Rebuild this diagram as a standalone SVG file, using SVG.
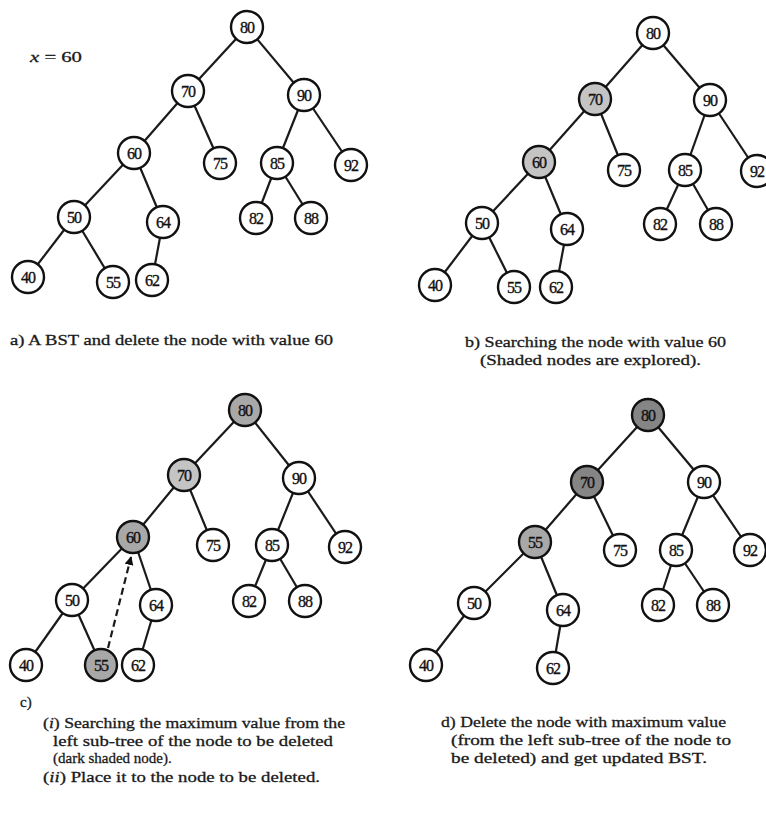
<svg xmlns="http://www.w3.org/2000/svg" width="766" height="814" viewBox="0 0 766 814">
<style>
.e{stroke:#1a1a1a;stroke-width:2.2;fill:none}
.n circle{stroke:#111;stroke-width:2.4;fill:#fff}
.n text{font-family:"Liberation Serif",serif;font-size:16px;fill:#111;stroke:#111;stroke-width:0.35;text-anchor:middle;dominant-baseline:central;letter-spacing:-1px}
.n.s1 circle{fill:#c4c4c4}
.n.s2 circle{fill:#a8a8a8}
.n.s3 circle{fill:#858585}
.cap{font-family:"Liberation Serif",serif;font-size:15px;fill:#1a1a1a;stroke:#1a1a1a;stroke-width:0.3}
</style>
<defs>
<marker id="ah" viewBox="0 0 10 10" refX="9" refY="5" markerWidth="4" markerHeight="4" orient="auto"><path d="M0,0L10,5L0,10z" fill="#111"/></marker>
</defs>
<rect width="766" height="814" fill="#fff"/>
<text class="cap" x="30" y="62" font-size="16" textLength="52" lengthAdjust="spacingAndGlyphs"><tspan font-style="italic">x</tspan> = 60</text>

<g id="connectors">
<g id="edges-a">
<line class="e" x1="247" y1="27" x2="188" y2="91"/><line class="e" x1="247" y1="27" x2="304" y2="95"/>
<line class="e" x1="188" y1="91" x2="134" y2="153"/><line class="e" x1="188" y1="91" x2="220" y2="163"/>
<line class="e" x1="304" y1="95" x2="277" y2="163"/><line class="e" x1="304" y1="95" x2="351" y2="165"/>
<line class="e" x1="134" y1="153" x2="74" y2="217"/><line class="e" x1="134" y1="153" x2="163" y2="222"/>
<line class="e" x1="277" y1="163" x2="256" y2="218"/><line class="e" x1="277" y1="163" x2="311" y2="218"/>
<line class="e" x1="74" y1="217" x2="28" y2="277"/><line class="e" x1="74" y1="217" x2="113" y2="282"/>
<line class="e" x1="163" y1="222" x2="152" y2="280"/>
</g>
<g id="edges-b">
<line class="e" x1="653" y1="33" x2="595" y2="99"/><line class="e" x1="653" y1="33" x2="710" y2="100"/>
<line class="e" x1="595" y1="99" x2="539" y2="162"/><line class="e" x1="595" y1="99" x2="624" y2="170"/>
<line class="e" x1="710" y1="100" x2="685" y2="170"/><line class="e" x1="710" y1="100" x2="757" y2="171"/>
<line class="e" x1="539" y1="162" x2="482" y2="223"/><line class="e" x1="539" y1="162" x2="567" y2="229"/>
<line class="e" x1="685" y1="170" x2="660" y2="224"/><line class="e" x1="685" y1="170" x2="716" y2="224"/>
<line class="e" x1="482" y1="223" x2="435" y2="285"/><line class="e" x1="482" y1="223" x2="514" y2="287"/>
<line class="e" x1="567" y1="229" x2="556" y2="287"/>
</g>
<g id="edges-c">
<line class="e" x1="245" y1="410" x2="184" y2="475"/><line class="e" x1="245" y1="410" x2="299" y2="478"/>
<line class="e" x1="184" y1="475" x2="133" y2="537"/><line class="e" x1="184" y1="475" x2="213" y2="545"/>
<line class="e" x1="299" y1="478" x2="272" y2="545"/><line class="e" x1="299" y1="478" x2="345" y2="547"/>
<line class="e" x1="133" y1="537" x2="72" y2="600"/><line class="e" x1="133" y1="537" x2="156" y2="605"/>
<line class="e" x1="272" y1="545" x2="249" y2="601"/><line class="e" x1="272" y1="545" x2="305" y2="601"/>
<line class="e" x1="72" y1="600" x2="26" y2="665"/><line class="e" x1="72" y1="600" x2="101" y2="665"/>
<line class="e" x1="156" y1="605" x2="138" y2="665"/>
<line class="e" x1="108" y1="648" x2="131" y2="557" stroke-width="2.6" stroke-dasharray="7,4" marker-end="url(#ah)"/>
</g>
<g id="edges-d">
<line class="e" x1="648" y1="415" x2="587" y2="482"/><line class="e" x1="648" y1="415" x2="704" y2="482"/>
<line class="e" x1="587" y1="482" x2="535" y2="542"/><line class="e" x1="587" y1="482" x2="620" y2="550"/>
<line class="e" x1="704" y1="482" x2="676" y2="550"/><line class="e" x1="704" y1="482" x2="750" y2="550"/>
<line class="e" x1="535" y1="542" x2="474" y2="603"/><line class="e" x1="535" y1="542" x2="563" y2="610"/>
<line class="e" x1="676" y1="550" x2="658" y2="605"/><line class="e" x1="676" y1="550" x2="713" y2="605"/>
<line class="e" x1="474" y1="603" x2="426" y2="665"/>
<line class="e" x1="563" y1="610" x2="553" y2="668"/>
</g>
</g>

<g id="a80" class="n"><circle cx="247" cy="27" r="16"/><text x="247" y="27">80</text></g>
<g id="a70" class="n"><circle cx="188" cy="91" r="16"/><text x="188" y="91">70</text></g>
<g id="a90" class="n"><circle cx="304" cy="95" r="16"/><text x="304" y="95">90</text></g>
<g id="a60" class="n"><circle cx="134" cy="153" r="16"/><text x="134" y="153">60</text></g>
<g id="a75" class="n"><circle cx="220" cy="163" r="16"/><text x="220" y="163">75</text></g>
<g id="a85" class="n"><circle cx="277" cy="163" r="16"/><text x="277" y="163">85</text></g>
<g id="a92" class="n"><circle cx="351" cy="165" r="16"/><text x="351" y="165">92</text></g>
<g id="a50" class="n"><circle cx="74" cy="217" r="16"/><text x="74" y="217">50</text></g>
<g id="a64" class="n"><circle cx="163" cy="222" r="16"/><text x="163" y="222">64</text></g>
<g id="a82" class="n"><circle cx="256" cy="218" r="16"/><text x="256" y="218">82</text></g>
<g id="a88" class="n"><circle cx="311" cy="218" r="16"/><text x="311" y="218">88</text></g>
<g id="a40" class="n"><circle cx="28" cy="277" r="16"/><text x="28" y="277">40</text></g>
<g id="a55" class="n"><circle cx="113" cy="282" r="16"/><text x="113" y="282">55</text></g>
<g id="a62" class="n"><circle cx="152" cy="280" r="16"/><text x="152" y="280">62</text></g>

<g id="b80" class="n"><circle cx="653" cy="33" r="16"/><text x="653" y="33">80</text></g>
<g id="b70" class="n s1"><circle cx="595" cy="99" r="16"/><text x="595" y="99">70</text></g>
<g id="b90" class="n"><circle cx="710" cy="100" r="16"/><text x="710" y="100">90</text></g>
<g id="b60" class="n s1"><circle cx="539" cy="162" r="16"/><text x="539" y="162">60</text></g>
<g id="b75" class="n"><circle cx="624" cy="170" r="16"/><text x="624" y="170">75</text></g>
<g id="b85" class="n"><circle cx="685" cy="170" r="16"/><text x="685" y="170">85</text></g>
<g id="b92" class="n"><circle cx="757" cy="171" r="16"/><text x="757" y="171">92</text></g>
<g id="b50" class="n"><circle cx="482" cy="223" r="16"/><text x="482" y="223">50</text></g>
<g id="b64" class="n"><circle cx="567" cy="229" r="16"/><text x="567" y="229">64</text></g>
<g id="b82" class="n"><circle cx="660" cy="224" r="16"/><text x="660" y="224">82</text></g>
<g id="b88" class="n"><circle cx="716" cy="224" r="16"/><text x="716" y="224">88</text></g>
<g id="b40" class="n"><circle cx="435" cy="285" r="16"/><text x="435" y="285">40</text></g>
<g id="b55" class="n"><circle cx="514" cy="287" r="16"/><text x="514" y="287">55</text></g>
<g id="b62" class="n"><circle cx="556" cy="287" r="16"/><text x="556" y="287">62</text></g>

<g id="c80" class="n s2"><circle cx="245" cy="410" r="16"/><text x="245" y="410">80</text></g>
<g id="c70" class="n s1"><circle cx="184" cy="475" r="16"/><text x="184" y="475">70</text></g>
<g id="c90" class="n"><circle cx="299" cy="478" r="16"/><text x="299" y="478">90</text></g>
<g id="c60" class="n s2"><circle cx="133" cy="537" r="16"/><text x="133" y="537">60</text></g>
<g id="c75" class="n"><circle cx="213" cy="545" r="16"/><text x="213" y="545">75</text></g>
<g id="c85" class="n"><circle cx="272" cy="545" r="16"/><text x="272" y="545">85</text></g>
<g id="c92" class="n"><circle cx="345" cy="547" r="16"/><text x="345" y="547">92</text></g>
<g id="c50" class="n"><circle cx="72" cy="600" r="16"/><text x="72" y="600">50</text></g>
<g id="c64" class="n"><circle cx="156" cy="605" r="16"/><text x="156" y="605">64</text></g>
<g id="c82" class="n"><circle cx="249" cy="601" r="16"/><text x="249" y="601">82</text></g>
<g id="c88" class="n"><circle cx="305" cy="601" r="16"/><text x="305" y="601">88</text></g>
<g id="c40" class="n"><circle cx="26" cy="665" r="16"/><text x="26" y="665">40</text></g>
<g id="c55" class="n s2"><circle cx="101" cy="665" r="16"/><text x="101" y="665">55</text></g>
<g id="c62" class="n"><circle cx="138" cy="665" r="16"/><text x="138" y="665">62</text></g>

<g id="d80" class="n s3"><circle cx="648" cy="415" r="16"/><text x="648" y="415">80</text></g>
<g id="d70" class="n s3"><circle cx="587" cy="482" r="16"/><text x="587" y="482">70</text></g>
<g id="d90" class="n"><circle cx="704" cy="482" r="16"/><text x="704" y="482">90</text></g>
<g id="d55" class="n s2"><circle cx="535" cy="542" r="16"/><text x="535" y="542">55</text></g>
<g id="d75" class="n"><circle cx="620" cy="550" r="16"/><text x="620" y="550">75</text></g>
<g id="d85" class="n"><circle cx="676" cy="550" r="16"/><text x="676" y="550">85</text></g>
<g id="d92" class="n"><circle cx="750" cy="550" r="16"/><text x="750" y="550">92</text></g>
<g id="d50" class="n"><circle cx="474" cy="603" r="16"/><text x="474" y="603">50</text></g>
<g id="d64" class="n"><circle cx="563" cy="610" r="16"/><text x="563" y="610">64</text></g>
<g id="d82" class="n"><circle cx="658" cy="605" r="16"/><text x="658" y="605">82</text></g>
<g id="d88" class="n"><circle cx="713" cy="605" r="16"/><text x="713" y="605">88</text></g>
<g id="d40" class="n"><circle cx="426" cy="665" r="16"/><text x="426" y="665">40</text></g>
<g id="d62" class="n"><circle cx="553" cy="668" r="16"/><text x="553" y="668">62</text></g>

<g id="captions">
<text class="cap" x="10" y="345" textLength="323" lengthAdjust="spacingAndGlyphs">a) A BST and delete the node with value 60</text>
<text class="cap" x="465" y="347" textLength="261" lengthAdjust="spacingAndGlyphs">b) Searching the node with value 60</text>
<text class="cap" x="480" y="365" textLength="221" lengthAdjust="spacingAndGlyphs">(Shaded nodes are explored).</text>
<text class="cap" x="20" y="707">c)</text>
<text class="cap" x="43" y="728" textLength="302" lengthAdjust="spacingAndGlyphs">(<tspan font-style="italic">i</tspan>) Searching the maximum value from the</text>
<text class="cap" x="53" y="746" textLength="280" lengthAdjust="spacingAndGlyphs">left sub-tree of the node to be deleted</text>
<text class="cap" x="53" y="763">(dark shaded node).</text>
<text class="cap" x="43" y="782" textLength="277" lengthAdjust="spacingAndGlyphs">(<tspan font-style="italic">ii</tspan>) Place it to the node to be deleted.</text>
<text class="cap" x="441" y="727" textLength="285" lengthAdjust="spacingAndGlyphs">d) Delete the node with maximum value</text>
<text class="cap" x="451" y="745" textLength="280" lengthAdjust="spacingAndGlyphs">(from the left sub-tree of the node to</text>
<text class="cap" x="451" y="763" textLength="256" lengthAdjust="spacingAndGlyphs">be deleted) and get updated BST.</text>
</g>
</svg>
